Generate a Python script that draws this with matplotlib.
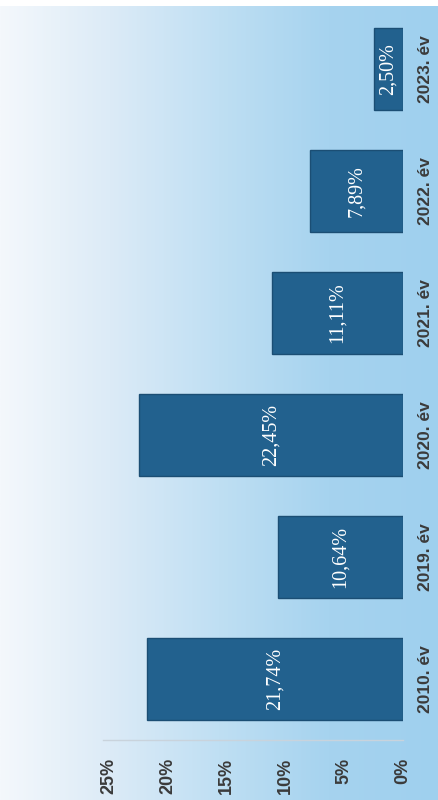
import numpy as np
import matplotlib
matplotlib.use("Agg")
import matplotlib.pyplot as plt
from matplotlib.colors import LinearSegmentedColormap

# Data
years = ["2010. év", "2019. év", "2020. év", "2021. év", "2022. év", "2023. év"]
values = [21.74, 10.64, 22.45, 11.11, 7.89, 2.50]
value_labels = ["21,74%", "10,64%", "22,45%", "11,11%", "7,89%", "2,50%"]
ticks = [0, 5, 10, 15, 20, 25]
tick_labels = ["0%", "5%", "10%", "15%", "20%", "25%"]

W, H, DPI = 438, 800, 100
fig = plt.figure(figsize=(W / DPI, H / DPI), dpi=DPI)
fig.patch.set_facecolor("white")

# Soft light-blue background gradient (white on the left, blue on the right)
bg = fig.add_axes([0, 0, 1, 0.993])
bg.set_axis_off()
grad_cmap = LinearSegmentedColormap.from_list(
    "bg", ["#f4f8fc", "#dcebf7", "#bfdff3", "#a6d3ef", "#9fd0ee"])
g = np.linspace(0, 1, 256)[None, :]
bg.imshow(np.repeat(g, 4, axis=0), aspect="auto", cmap=grad_cmap,
          extent=[0, 1, 0, 1])
bg.set_xlim(0, 1)
bg.set_ylim(0, 1)

# Main plotting area (chart drawn rotated by 90 degrees)
left_px, right_px = 103, 403
bottom_px, top_px = 740, 8
ax = fig.add_axes([left_px / W, (H - bottom_px) / H,
                   (right_px - left_px) / W, (bottom_px - top_px) / H])
ax.patch.set_alpha(0)

pos = np.arange(len(years))
ax.barh(pos, values, height=0.67, color="#22618e", edgecolor="#1b4e74",
        linewidth=1.0, zorder=3)

ax.set_xlim(25.5, 0)
ax.set_ylim(-0.5, len(years) - 0.5)

for p, v, lab in zip(pos, values, value_labels):
    ax.text(v / 2, p, lab, rotation=90, ha="center", va="center",
            color="white", fontsize=14.5, family="Liberation Serif", zorder=4)

text_color = "#3b3b3b"
ax.set_xticks(ticks)
ax.set_xticklabels(tick_labels, rotation=90, fontsize=13, fontweight="bold",
                   family="Liberation Sans", color=text_color)
ax.tick_params(axis="x", length=0, pad=13)

ax.yaxis.tick_right()
ax.set_yticks(pos)
ax.set_yticklabels(years, rotation=90, va="center", fontsize=12.5,
                   fontweight="bold", family="Liberation Sans", color=text_color)
ax.tick_params(axis="y", length=0, pad=11)

for s in ["top", "left", "right"]:
    ax.spines[s].set_visible(False)
ax.spines["bottom"].set_color("#c9d3dc")
ax.spines["bottom"].set_linewidth(1.0)

fig.savefig("out.png", dpi=DPI)
